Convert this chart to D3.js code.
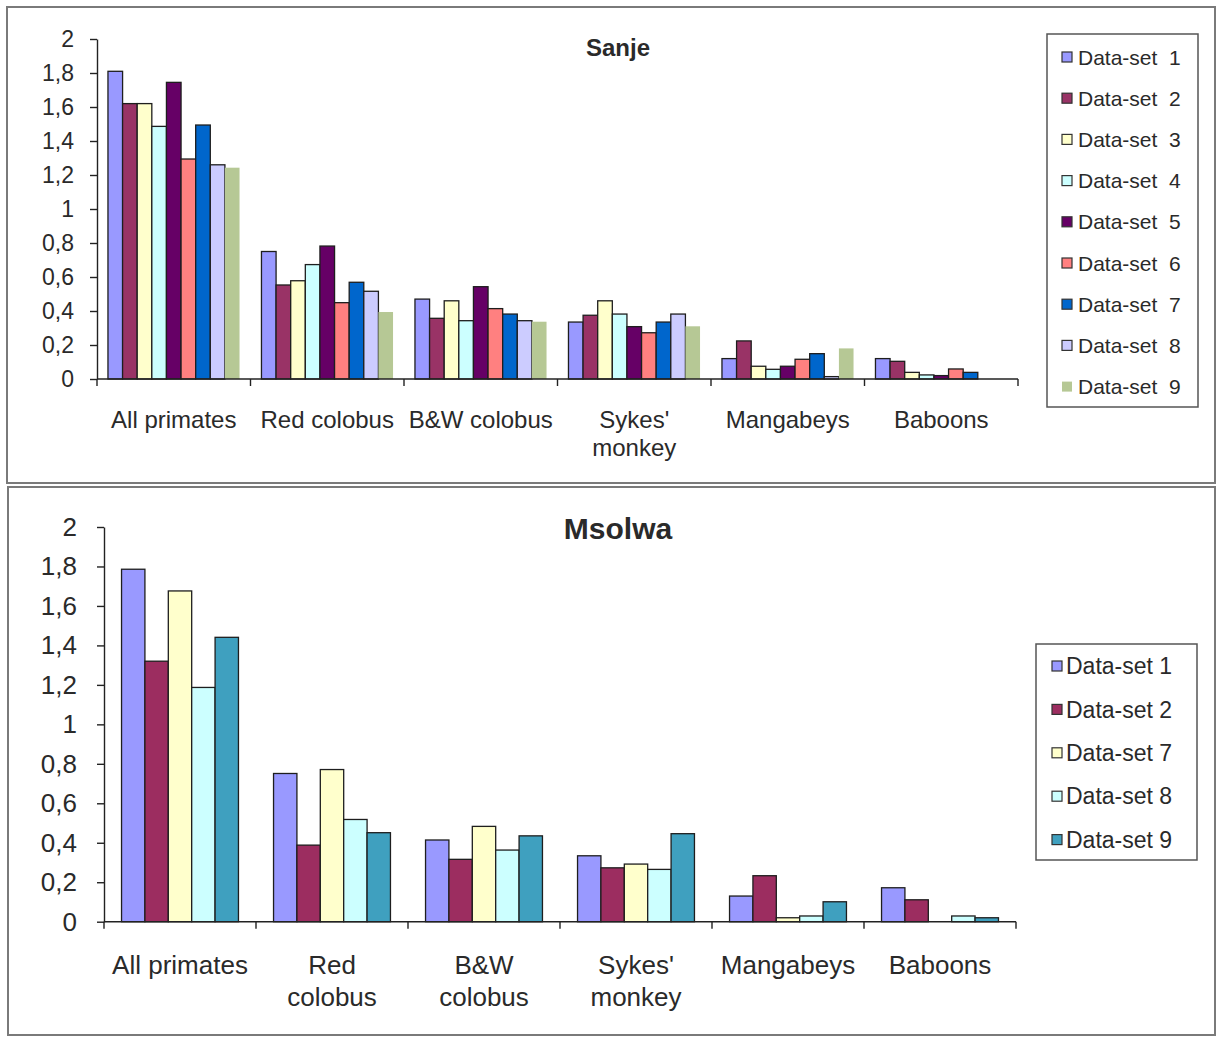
<!DOCTYPE html>
<html>
<head>
<meta charset="utf-8">
<script src="https://cdn.jsdelivr.net/npm/d3@7"></script>
<style>
  html, body { margin: 0; padding: 0; background: #fff; }
  svg { display: block; }
  text { font-family: "Liberation Sans", Arial, sans-serif; fill: #2a2a2a; }
</style>
</head>
<body>
<svg id="chart" width="1216" height="1039"></svg>
<script>
// ---- data -------------------------------------------------------------
const categories = ["All primates", "Red colobus", "B&W colobus", "Sykes' monkey", "Mangabeys", "Baboons"];
const sanjeLabelLines = [["All primates"], ["Red colobus"], ["B&W colobus"], ["Sykes'", "monkey"], ["Mangabeys"], ["Baboons"]];
const msolwaLabelLines = [["All primates"], ["Red", "colobus"], ["B&W", "colobus"], ["Sykes'", "monkey"], ["Mangabeys"], ["Baboons"]];
const yTicks = [0, 0.2, 0.4, 0.6, 0.8, 1, 1.2, 1.4, 1.6, 1.8, 2];

// Sanje transect
const sanjeSeries = ["Data-set 1", "Data-set 2", "Data-set 3", "Data-set 4", "Data-set 5", "Data-set 6", "Data-set 7", "Data-set 8", "Data-set 9"];
const sanjeDS1 = [1.81, 0.75, 0.47, 0.335, 0.12, 0.12];
const sanjeDS2 = [1.62, 0.553, 0.357, 0.375, 0.224, 0.104];
const sanjeDS3 = [1.62, 0.578, 0.46, 0.46, 0.075, 0.039];
const sanjeDS4 = [1.486, 0.673, 0.343, 0.382, 0.057, 0.024];
const sanjeDS5 = [1.745, 0.782, 0.543, 0.308, 0.075, 0.02];
const sanjeDS6 = [1.294, 0.449, 0.414, 0.272, 0.116, 0.059];
const sanjeDS7 = [1.494, 0.569, 0.382, 0.335, 0.149, 0.039];
const sanjeDS8 = [1.26, 0.516, 0.343, 0.382, 0.014, 0];
const sanjeDS9 = [1.243, 0.394, 0.337, 0.31, 0.18, 0];
const sanjeColors = ["#9999ff", "#993366", "#ffffcc", "#ccffff", "#660066", "#ff8080", "#0066cc", "#ccccff", "#b6c895"];

// Msolwa transect
const msolwaSeries = ["Data-set 1", "Data-set 2", "Data-set 7", "Data-set 8", "Data-set 9"];
const msolwaDS1 = [1.786, 0.751, 0.414, 0.334, 0.13, 0.172];
const msolwaDS2 = [1.32, 0.388, 0.316, 0.273, 0.233, 0.111];
const msolwaDS7 = [1.676, 0.771, 0.483, 0.292, 0.02, 0];
const msolwaDS8 = [1.187, 0.518, 0.363, 0.265, 0.029, 0.029];
const msolwaDS9 = [1.441, 0.451, 0.435, 0.446, 0.101, 0.02];
const msolwaColors = ["#9999ff", "#9c2d60", "#ffffcc", "#ccffff", "#3fa0bf"];

// ---- drawing ----------------------------------------------------------
const svg = d3.select("#chart");
const commaFmt = d3.formatLocale({ decimal: ",", thousands: ".", grouping: [3], currency: ["", ""] }).format("~g");

function drawPanel(p) {
  const g = svg.append("g");

  // panel frame
  g.append("rect")
    .attr("x", p.frame[0]).attr("y", p.frame[1])
    .attr("width", p.frame[2]).attr("height", p.frame[3])
    .attr("fill", "#fff").attr("stroke", "#7a7a7a").attr("stroke-width", 2);

  const x0 = d3.scaleBand().domain(categories).range([p.left, p.right]).padding(0);
  const x1 = d3.scaleBand().domain(p.series).range([0, x0.bandwidth()])
    .paddingInner(0).paddingOuter(0.75);
  const y = d3.scaleLinear().domain([0, 2]).range([p.bottom, p.top]);

  // bars
  p.series.forEach((s, si) => {
    const vals = p.values[si];
    g.append("g").selectAll("rect")
      .data(categories.map((c, ci) => ({ c, v: vals[ci] })).filter(d => d.v > 0))
      .join("rect")
      .attr("x", d => x0(d.c) + x1(s))
      .attr("y", d => y(d.v))
      .attr("width", x1.bandwidth())
      .attr("height", d => y(0) - y(d.v))
      .attr("fill", p.colors[si])
      .attr("stroke", p.noStroke && p.noStroke.includes(si) ? "none" : "#1e1e1e")
      .attr("stroke-width", 1.3);
  });

  // y axis
  const yAxis = d3.axisLeft(y).tickValues(yTicks).tickFormat(commaFmt)
    .tickSizeInner(7).tickSizeOuter(0).tickPadding(p.tickPad);
  const ya = g.append("g").attr("transform", `translate(${p.left},0)`).call(yAxis);
  ya.selectAll("text").style("font-size", p.tickFont + "px").attr("fill", "#333");
  ya.selectAll("line,path").attr("stroke", "#222").attr("stroke-width", 1.4);

  // x axis with ticks at category boundaries
  const xa = g.append("g");
  xa.append("line").attr("x1", p.left).attr("x2", p.right)
    .attr("y1", y(0)).attr("y2", y(0)).attr("stroke", "#222").attr("stroke-width", 1.4);
  const bounds = categories.map(c => x0(c)).concat([x0(categories[categories.length - 1]) + x0.bandwidth()]);
  xa.selectAll("line.tk").data(bounds).join("line").attr("class", "tk")
    .attr("x1", d => d).attr("x2", d => d)
    .attr("y1", y(0)).attr("y2", y(0) + 7)
    .attr("stroke", "#222").attr("stroke-width", 1.4);

  // category labels
  categories.forEach((c, ci) => {
    const t = g.append("text")
      .attr("x", x0(c) + x0.bandwidth() / 2)
      .attr("y", p.labelY)
      .attr("text-anchor", "middle")
      .style("font-size", p.labelFont + "px")
      .attr("fill", "#333");
    p.labelLines[ci].forEach((ln, li) => {
      t.append("tspan").attr("x", x0(c) + x0.bandwidth() / 2)
        .attr("dy", li === 0 ? 0 : p.labelLineH).text(ln);
    });
  });

  // title
  g.append("text").attr("x", p.titleX).attr("y", p.titleY)
    .attr("text-anchor", "middle").style("font-size", p.titleFont + "px")
    .style("font-weight", "bold").attr("fill", "#111").text(p.title);

  // legend
  const lg = g.append("g");
  lg.append("rect").attr("x", p.legend.x).attr("y", p.legend.y)
    .attr("width", p.legend.w).attr("height", p.legend.h)
    .attr("fill", "#fff").attr("stroke", "#555").attr("stroke-width", 1.5);
  p.series.forEach((s, si) => {
    const cy = p.legend.firstY + si * p.legend.step;
    lg.append("rect").attr("x", p.legend.markX).attr("y", cy - 5)
      .attr("width", 10).attr("height", 10)
      .attr("fill", p.colors[si])
      .attr("stroke", p.noStroke && p.noStroke.includes(si) ? "none" : "#333")
      .attr("stroke-width", 1.2);
    lg.append("text").attr("x", p.legend.textX).attr("y", cy)
      .attr("dy", "0.36em").style("font-size", p.legend.font + "px")
      .attr("fill", "#333").text(s.replace(" ", p.legend.sep));
  });
}

drawPanel({
  frame: [7, 7, 1208, 476],
  left: 97, right: 1018, top: 39, bottom: 379,
  series: sanjeSeries,
  values: [sanjeDS1, sanjeDS2, sanjeDS3, sanjeDS4, sanjeDS5, sanjeDS6, sanjeDS7, sanjeDS8, sanjeDS9],
  colors: sanjeColors,
  noStroke: [8],
  tickFont: 23, tickPad: 16,
  labelFont: 24, labelY: 428, labelLineH: 28, labelLines: sanjeLabelLines,
  title: "Sanje", titleX: 618, titleY: 56, titleFont: 24,
  legend: { x: 1047, y: 34, w: 151, h: 373, firstY: 57, step: 41.2, markX: 1062, textX: 1078, font: 21, sep: "\u00a0\u00a0" }
});

drawPanel({
  frame: [8, 487, 1207, 548],
  left: 104, right: 1016, top: 527, bottom: 921.7,
  series: msolwaSeries,
  values: [msolwaDS1, msolwaDS2, msolwaDS7, msolwaDS8, msolwaDS9],
  colors: msolwaColors,
  tickFont: 26, tickPad: 20,
  labelFont: 26, labelY: 974, labelLineH: 32, labelLines: msolwaLabelLines,
  title: "Msolwa", titleX: 618, titleY: 539, titleFont: 30,
  legend: { x: 1036, y: 644, w: 161, h: 216, firstY: 666, step: 43.4, markX: 1052, textX: 1066, font: 23, sep: " " }
});
</script>
</body>
</html>
